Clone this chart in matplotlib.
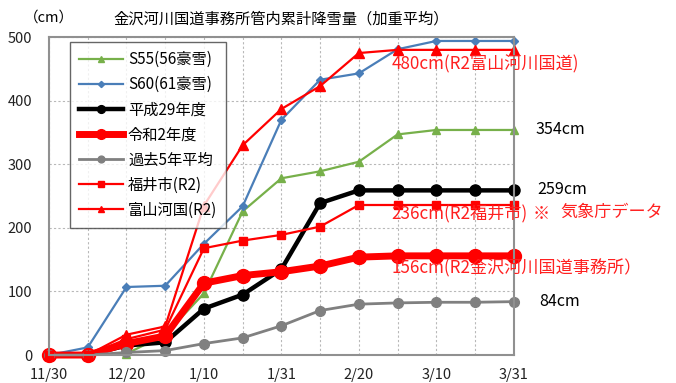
import matplotlib
matplotlib.use("Agg")
import matplotlib.pyplot as plt

plt.rcParams['font.family'] = ['Noto Sans CJK JP', 'DejaVu Sans']

# 集計日（各旬末）
dates = ['11/30', '12/10', '12/20', '12/31', '1/10', '1/20', '1/31',
         '2/10', '2/20', '2/28', '3/10', '3/20', '3/31']

# 累計降雪量 (cm)
s55 = [0, 0, 2, 32, 97, 226, 278, 289, 304, 347, 354, 354, 354]
s60 = [0, 12, 107, 109, 175, 234, 370, 433, 443, 481, 494, 494, 494]
h29 = [0, 0, 15, 20, 73, 95, 135, 239, 259, 259, 259, 259, 259]
r2 = [0, 0, 18, 30, 113, 125, 131, 140, 154, 156, 156, 156, 156]
avg5 = [0, 0, 4, 7, 18, 27, 46, 70, 80, 82, 83, 83, 84]
fukui = [0, 0, 25, 40, 168, 180, 189, 202, 236, 236, 236, 236, 236]
toyama = [0, 0, 32, 45, 235, 330, 387, 423, 475, 480, 480, 480, 480]

x = list(range(len(dates)))

fig = plt.figure(figsize=(6.76, 3.83), dpi=100)
ax = fig.add_axes([0.0725, 0.073, 0.6875, 0.830])

ax.plot(x, s55, color='#77b04a', lw=1.6, marker='^', ms=6, label='S55(56豪雪)', clip_on=False)
ax.plot(x, s60, color='#4a7eb8', lw=1.6, marker='D', ms=4.5, label='S60(61豪雪)', clip_on=False)
ax.plot(x, h29, color='black', lw=3.2, marker='o', ms=8, label='平成29年度', clip_on=False)
ax.plot(x, r2, color='#ff0000', lw=5, marker='o', ms=10, label='令和2年度', clip_on=False)
ax.plot(x, avg5, color='#808080', lw=2, marker='o', ms=7, label='過去5年平均', clip_on=False)
ax.plot(x, fukui, color='#ff0000', lw=1.6, marker='s', ms=6, label='福井市(R2)', clip_on=False)
ax.plot(x, toyama, color='#ff0000', lw=1.6, marker='^', ms=6.5, label='富山河国(R2)', clip_on=False)

ax.set_xlim(0, 12)
ax.set_ylim(0, 500)
ax.set_yticks(range(0, 501, 100))
ax.set_xticks(x)
ax.set_xticklabels([d if i % 2 == 0 else '' for i, d in enumerate(dates)])
ax.tick_params(length=0, labelsize=10.5, colors='#222222')
ax.tick_params(axis='x', pad=9)
ax.tick_params(axis='y', pad=12)
ax.grid(True, color='#b8b8b8', ls=(0, (2, 2)), lw=0.8)
ax.set_axisbelow(True)
for side in ['left', 'bottom', 'right', 'top']:
    ax.spines[side].set_color('#909090')
    ax.spines[side].set_linewidth(1.5)

leg = ax.legend(loc='upper left', bbox_to_anchor=(0.045, 0.985), fontsize=11,
                frameon=True, fancybox=False, edgecolor='#404040',
                handlelength=2.9, labelspacing=0.53, borderpad=0.6,
                handletextpad=0.3, borderaxespad=0, markerscale=0.7)
leg.get_frame().set_linewidth(1.0)
leg.set_zorder(10)

ax.set_title('金沢河川国道事務所管内累計降雪量（加重平均）', fontsize=11, pad=10)
fig.text(0.035, 0.953, '（cm）', fontsize=10.5, ha='left', va='center')

# 最終値の注記
red = '#ff2020'
ax.text(8.85, toyama[-1] - 22, f'{toyama[-1]}cm(R2富山河川国道)', color=red,
        fontsize=12.3, va='center', ha='left')
ax.text(8.85, fukui[-1] - 14, f'{fukui[-1]}cm(R2福井市)', color=red,
        fontsize=12.3, va='center', ha='left')
ax.text(12.5, fukui[-1] - 14, '※', color=red, fontsize=12.3, va='center', ha='left')
ax.text(13.2, fukui[-1] - 11, '気象庁データ', color=red, fontsize=12.3, va='center', ha='left')
ax.text(8.85, r2[-1] - 19, f'{r2[-1]}cm(R2金沢河川国道事務所）', color=red,
        fontsize=12.3, va='center', ha='left')
ax.text(12.55, s55[-1], f'{s55[-1]}cm', fontsize=11.5, va='center', ha='left')
ax.text(12.6, h29[-1] + 2, f'{h29[-1]}cm', fontsize=11.5, va='center', ha='left')
ax.text(12.65, avg5[-1], f'{avg5[-1]}cm', fontsize=11.5, va='center', ha='left')

fig.savefig('out.png', dpi=100)
